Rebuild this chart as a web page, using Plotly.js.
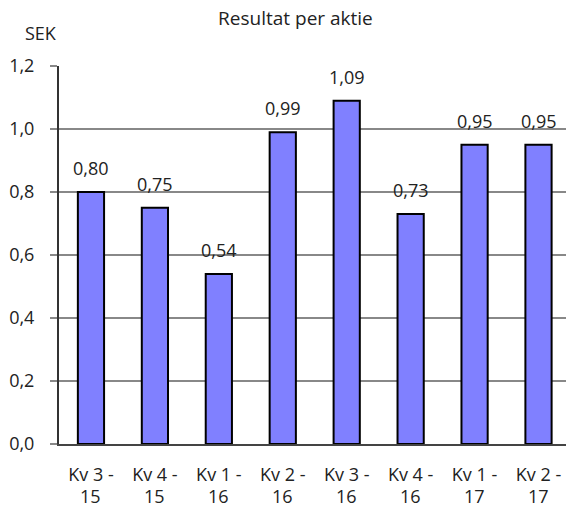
<!DOCTYPE html>
<html>
<head>
<meta charset="utf-8">
<script src="https://cdn.plot.ly/plotly-3.0.1.min.js"></script>
<style>html,body{margin:0;padding:0;background:#fff;}#chart{width:566px;height:508px;}</style>
</head>
<body>
<div id="chart"></div>
<script>
const quarters = ["Kv 3 -", "Kv 4 -", "Kv 1 -", "Kv 2 -", "Kv 3 -", "Kv 4 -", "Kv 1 -", "Kv 2 -"];
const years = ["15", "15", "16", "16", "16", "16", "17", "17"];
const values = [0.80, 0.75, 0.54, 0.99, 1.09, 0.73, 0.95, 0.95];
const yTicks = [0, 0.2, 0.4, 0.6, 0.8, 1.0, 1.2];

const idx = values.map((v, i) => i);
const fmt = v => v.toFixed(2).replace('.', ',');
const FONT = "Open Sans, Noto Sans, sans-serif";
const TXT = "#222";

const trace = {
  type: 'bar',
  x: idx,
  y: values,
  width: 0.41,
  marker: {color: '#8080FF', line: {color: '#000', width: 2}},
  hoverinfo: 'none'
};

const annotations = values.map((v, i) => ({
  x: i, y: v, xref: 'x', yref: 'y',
  text: fmt(v), showarrow: false,
  yanchor: 'bottom', yshift: 10,
  font: {family: FONT, size: 18, color: TXT}
}));
years.forEach((yr, i) => annotations.push({
  x: i, y: -0.137, xref: 'x', yref: 'paper',
  text: yr, showarrow: false, xanchor: 'center', yanchor: 'middle',
  font: {family: FONT, size: 18, color: TXT}
}));
annotations.push({
  x: -0.035, y: 1.087, xref: 'paper', yref: 'paper',
  text: 'SEK', showarrow: false, xanchor: 'center', yanchor: 'middle',
  font: {family: FONT, size: 18, color: TXT}
});

const layout = {
  width: 566, height: 508,
  margin: {l: 59, r: 0, t: 66, b: 63.5},
  paper_bgcolor: '#fff', plot_bgcolor: '#fff',
  separators: ', ',
  showlegend: false,
  font: {family: FONT, size: 18, color: TXT},
  title: {
    text: 'Resultat per aktie',
    x: 0.522, xref: 'container', xanchor: 'center',
    y: 1 - 18/508, yref: 'container', yanchor: 'middle',
    font: {family: FONT, size: 19, color: TXT}
  },
  xaxis: {
    range: [-0.5, 7.43],
    tickvals: idx,
    ticktext: quarters,
    showgrid: false, zeroline: false,
    showline: true, linecolor: '#444', linewidth: 2,
    ticks: '', ticklabelstandoff: 13,
    tickfont: {family: FONT, size: 18, color: TXT},
    fixedrange: true
  },
  yaxis: {
    range: [0, 1.2],
    tickvals: yTicks,
    tickformat: '.1f',
    showgrid: true, gridcolor: '#888', gridwidth: 1.5,
    zeroline: false,
    showline: true, linecolor: '#333', linewidth: 2,
    ticks: 'outside', ticklen: 7, tickcolor: '#888', tickwidth: 1.5,
    ticklabelstandoff: 12,
    tickfont: {family: FONT, size: 18, color: TXT},
    fixedrange: true
  },
  annotations: annotations
};

Plotly.newPlot('chart', [trace], layout, {displayModeBar: false, staticPlot: true});
</script>
</body>
</html>
